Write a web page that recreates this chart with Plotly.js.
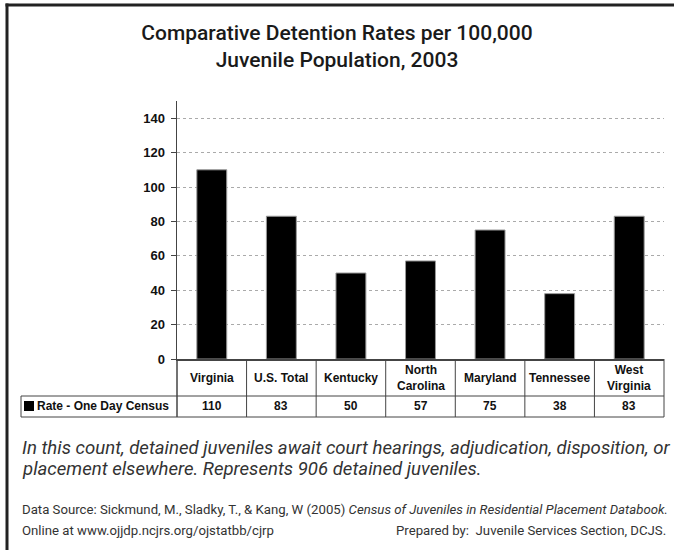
<!DOCTYPE html>
<html>
<head>
<meta charset="utf-8">
<script src="https://cdn.plot.ly/plotly-3.0.1.min.js"></script>
<style>
  html, body { margin: 0; padding: 0; background: #fff; }
  #chart { width: 674px; height: 550px; }
</style>
</head>
<body>
<div id="chart"></div>
<script>
// Detention rates per 100,000 juveniles, one day census 2003
const categories = ['Virginia', 'U.S. Total', 'Kentucky', 'North Carolina', 'Maryland', 'Tennessee', 'West Virginia'];
const categoryLabels = ['Virginia', 'U.S. Total', 'Kentucky', 'North<br>Carolina', 'Maryland', 'Tennessee', 'West<br>Virginia'];
const rates = [110, 83, 50, 57, 75, 38, 83];
const seriesName = 'Rate - One Day Census';
const yTicks = [0, 20, 40, 60, 80, 100, 120, 140];

// Page geometry (pixels)
const W = 674, H = 550;
const M = { l: 177, r: 10, t: 101, b: 191 };
const PW = W - M.l - M.r, PH = H - M.t - M.b;
const px = (x) => (x - M.l) / PW;          // pixel x -> paper x
const py = (y) => (H - M.b - y) / PH;      // pixel y -> paper y

const narrow = "Roboto, 'Liberation Sans', sans-serif";
const arial = "'Liberation Sans', Arial, sans-serif";
const lineCol = '#444';

const shapes = [];
const line = (x0, y0, x1, y1, color, width) => shapes.push({
  type: 'line', xref: 'paper', yref: 'paper', x0, y0, x1, y1,
  line: { color: color || lineCol, width: width || 1 }
});

// data table under the axis
const n = categories.length;
const rowSplit = py(396), tableBottom = py(417), tableLeft = px(21);
line(tableLeft, rowSplit, 1, rowSplit);
line(tableLeft, tableBottom, 1, tableBottom);
line(tableLeft, rowSplit, tableLeft, tableBottom);
for (let k = 0; k <= n; k++) line(k / n, 0, k / n, tableBottom, lineCol, k === 0 ? 1.5 : 1);
// legend key square
shapes.push({ type: 'rect', xref: 'paper', yref: 'paper',
  x0: px(24), x1: px(34), y0: py(411), y1: py(401),
  fillcolor: '#000', line: { width: 0 } });

// outer frame (left and top edges)
line(px(7), py(3.5), px(7), py(560), '#222', 3);
line(px(5.5), py(5), px(700), py(5), '#222', 3);

const annotations = [];
categories.forEach((c, i) => {
  annotations.push({ xref: 'x', yref: 'paper', x: c, y: py(378), yanchor: 'middle',
    text: '<b>' + categoryLabels[i] + '</b>', showarrow: false,
    font: { family: arial, size: 12, color: '#111' } });
  annotations.push({ xref: 'x', yref: 'paper', x: c, y: py(406.5), yanchor: 'middle',
    text: '<b>' + rates[i] + '</b>', showarrow: false,
    font: { family: arial, size: 12, color: '#111' } });
});
annotations.push({ xref: 'paper', yref: 'paper', x: px(35), y: py(406.5), xanchor: 'left', yanchor: 'middle',
  text: '<b>' + seriesName + '</b>', showarrow: false,
  font: { family: arial, size: 12, color: '#111' } });

// notes below the chart
const note = (txt, xPix, yPix, size, anchor) => annotations.push({
  xref: 'paper', yref: 'paper', x: px(xPix), y: py(yPix), xanchor: anchor || 'left', yanchor: 'middle',
  text: txt, showarrow: false, font: { family: narrow, size, color: '#333' }
});
note('<i>In this count, detained juveniles await court hearings, adjudication, disposition, or</i>', 20, 448, 18.6);
note('<i>placement elsewhere. Represents 906 detained juveniles.</i>', 20, 469, 18.6);
note('Data Source: Sickmund, M., Sladky, T., &amp; Kang, W (2005) <i>Census of Juveniles in Residential Placement Databook.</i>', 20, 509, 13.2);
note('Online at www.ojjdp.ncjrs.org/ojstatbb/cjrp', 20, 530, 13.2);
note('Prepared by:  Juvenile Services Section, DCJS.', 668, 530, 13.2, 'right');

const trace = {
  type: 'bar', x: categories, y: rates, name: seriesName,
  marker: { color: '#000', line: { color: '#999', width: 1 } },
  hoverinfo: 'x+y'
};

const layout = {
  width: W, height: H, margin: M,
  paper_bgcolor: '#fff', plot_bgcolor: '#fff',
  showlegend: false, bargap: 0.57,
  title: {
    text: 'Comparative Detention Rates per 100,000<br>Juvenile Population, 2003',
    font: { family: narrow, size: 21, color: '#1a1a1a', weight: 500 },
    xref: 'container', x: 0.5, xanchor: 'center',
    yref: 'container', y: 1 - 40 / H, yanchor: 'top'
  },
  xaxis: {
    type: 'category', showticklabels: false, ticks: '', showgrid: false,
    showline: true, linecolor: lineCol, linewidth: 1.5, zeroline: false,
    range: [-0.5, n - 0.5]
  },
  yaxis: {
    range: [0, 150], tickvals: yTicks, ticks: 'outside', ticklen: 5, tickcolor: lineCol,
    showline: true, linecolor: lineCol, linewidth: 1.5, zeroline: false,
    showgrid: true, gridcolor: '#aaa', griddash: 'dot', gridwidth: 1,
    tickfont: { family: arial, size: 13, color: '#111', weight: 'bold' },
    ticklabelstandoff: 3
  },
  shapes, annotations
};

Plotly.newPlot('chart', [trace], layout, { displayModeBar: false, staticPlot: true });
</script>
</body>
</html>
